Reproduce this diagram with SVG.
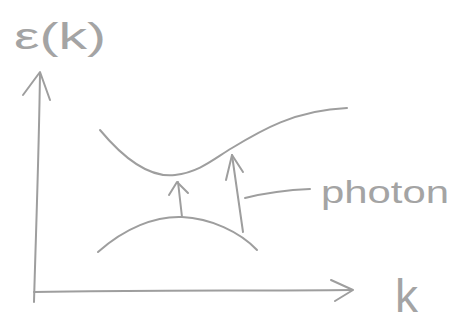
<svg xmlns="http://www.w3.org/2000/svg" width="460" height="326" viewBox="0 0 460 326">
  <style>
    .pen { fill: none; stroke: #9e9e9e; stroke-width: 2; stroke-linecap: round; stroke-linejoin: round; }
    .txt { fill: #a4a4a4; font-family: "Liberation Sans", "DejaVu Sans", sans-serif; }
  </style>
  <rect width="460" height="326" fill="#ffffff"/>
  <g id="axes">
    <path class="pen" d="M40,73 C39,150 36,230 34,302"/>
    <polyline class="pen" points="23,95 40,72 50,100"/>
    <path class="pen" d="M34,292 C140,290 250,291 352,290"/>
    <polyline class="pen" points="331,280 353,290 335,301"/>
  </g>
  <g id="upper-band">
    <path class="pen" d="M100,130 C125,160 150,178 175,175 C200,172 215,158 232,148 C260,131 295,110 347,108"/>
  </g>
  <g id="lower-band">
    <path class="pen" d="M98,252 C125,228 155,216 182,217 C210,218 240,232 257,250"/>
  </g>
  <g id="connectors">
    <g id="short-transition">
      <path class="pen" d="M182,217 L178,182"/>
      <polyline class="pen" points="169,195 177,182 188,193"/>
    </g>
    <g id="long-transition">
      <path class="pen" d="M243,232 L232,155"/>
      <polyline class="pen" points="226,180 232,155 243,172"/>
    </g>
    <path id="photon-pointer" class="pen" d="M245,198 C265,193 285,190 310,189"/>
  </g>
  <g id="labels">
    <text class="txt" x="14" y="49" font-size="36" textLength="92" lengthAdjust="spacingAndGlyphs">ε(k)</text>
    <text class="txt" x="321" y="203" font-size="31" textLength="128" lengthAdjust="spacingAndGlyphs">photon</text>
    <text class="txt" x="395" y="312" font-size="46">k</text>
  </g>
</svg>
